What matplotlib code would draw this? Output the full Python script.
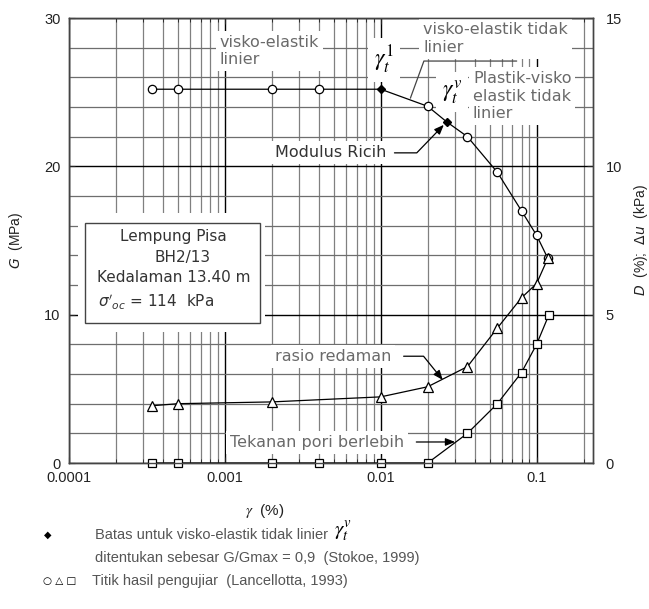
import numpy as np
import matplotlib
matplotlib.use("Agg")
import matplotlib.pyplot as plt
from matplotlib.patches import Rectangle
from matplotlib.ticker import (FixedLocator, FixedFormatter, LogLocator,
                               MultipleLocator, NullFormatter)

# shear modulus G (MPa) - open circles
strain_g = [0.00034, 0.0005, 0.002, 0.004, 0.02, 0.036, 0.056, 0.08, 0.1, 0.118]
modulus_g = [25.2, 25.2, 25.2, 25.2, 24.05, 22.0, 19.6, 17.0, 15.35, 13.8]
# threshold strains gamma_t^1 / gamma_t^v - filled diamonds
strain_lim = [0.01, 0.0265]
modulus_lim = [25.2, 23.0]
# damping ratio D (%) - triangles
strain_d = [0.00034, 0.0005, 0.002, 0.01, 0.02, 0.036, 0.056, 0.08, 0.1, 0.118]
damping = [1.93, 2.0, 2.06, 2.23, 2.57, 3.25, 4.55, 5.57, 6.05, 6.9]
# excess pore pressure du (kPa) - squares
strain_u = [0.00034, 0.0005, 0.002, 0.004, 0.01, 0.02, 0.036, 0.056, 0.08, 0.1, 0.12]
pore_u = [0, 0, 0, 0, 0, 0, 1.0, 2.0, 3.05, 4.0, 5.0]

xticks = [0.0001, 0.001, 0.01, 0.1]
xticklabels = ["0.0001", "0.001", "0.01", "0.1"]

plt.rcParams["font.family"] = ["Liberation Sans", "DejaVu Sans"]

GREY = "#6a6a6a"
LBL = dict(family="DejaVu Sans", fontsize=11.5, color=GREY)
WHITE = dict(boxstyle="square,pad=0.25", fc="white", ec="none")

fig = plt.figure(figsize=(6.49, 6.09), dpi=100)
ax = fig.add_axes([0.1063, 0.2397, 0.8074, 0.7307])
ax2 = ax.twinx()

ax.set_xscale("log")
ax.set_xlim(0.0001, 0.23)
ax.set_ylim(0, 30)
ax2.set_ylim(0, 15)

# grid
ax.set_axisbelow(True)
ax.xaxis.set_major_locator(FixedLocator(xticks))
ax.xaxis.set_major_formatter(FixedFormatter(xticklabels))
ax.xaxis.set_minor_locator(LogLocator(base=10, subs=np.arange(2, 10)))
ax.xaxis.set_minor_formatter(NullFormatter())
ax.yaxis.set_major_locator(MultipleLocator(10))
ax.yaxis.set_minor_locator(MultipleLocator(2))
ax.grid(which="major", axis="x", color="black", lw=1.0)
ax.grid(which="minor", axis="x", color="#808080", lw=0.9)
ax.grid(which="major", axis="y", color="black", lw=1.0)
ax.grid(which="minor", axis="y", color="#6e6e6e", lw=0.9)
ax2.yaxis.set_major_locator(MultipleLocator(5))

for a in (ax, ax2):
    for s in a.spines.values():
        s.set_color("#444444")
        s.set_linewidth(1.0)
ax.tick_params(which="both", direction="in", top=True, right=False,
               labelsize=10.5, colors="#222222", pad=6)
ax.tick_params(which="minor", length=3, left=False)
ax.tick_params(which="major", length=4)
ax2.tick_params(direction="in", labelsize=10.5, colors="#222222", pad=9,
                length=4)

# G curve through circles and diamonds
line_x = np.concatenate([strain_g, strain_lim])
line_y = np.concatenate([modulus_g, modulus_lim])
order = np.argsort(line_x)
ax.plot(line_x[order], line_y[order], color="black", lw=0.9, zorder=5)
ax.plot(strain_g, modulus_g, "o", ms=6, mfc="white", mec="black", mew=0.9,
        zorder=6)
ax.plot(strain_lim, modulus_lim, "D", ms=4.5, color="black", zorder=6)

# damping and pore pressure on right axis
ax2.plot(strain_d, damping, "-^", color="black", lw=0.9, ms=6.5, mfc="white",
         mew=0.9)
ax2.plot(strain_u, pore_u, "-s", color="black", lw=0.9, ms=6, mfc="white",
         mew=0.9, clip_on=False)

# zone labels
ax.text(0.288, 0.962, "visko-elastik\nlinier", transform=ax.transAxes,
        ha="left", va="top", linespacing=1.2, bbox=WHITE, zorder=3, **LBL)
ax.text(0.676, 0.99, "visko-elastik tidak\nlinier", transform=ax.transAxes,
        ha="left", va="top", linespacing=1.2, bbox=WHITE, zorder=3, **LBL)
ax.text(0.771, 0.88, "Plastik-visko\nelastik tidak\nlinier",
        transform=ax.transAxes, ha="left", va="top", linespacing=1.2,
        bbox=WHITE, zorder=3, **LBL)
ax.text(0.601, 0.906, r"$\gamma_t^1$", transform=ax.transAxes, ha="center",
        va="center", fontsize=17, math_fontfamily="stix", bbox=WHITE,
        zorder=3)
ax.text(0.731, 0.834, r"$\gamma_t^v$", transform=ax.transAxes, ha="center",
        va="center", fontsize=17, math_fontfamily="stix", bbox=WHITE,
        zorder=3)
# leader from "linier" to the modulus curve
ax.annotate("", xy=(0.0155, 24.6), xytext=(0.0745, 27.1),
            arrowprops=dict(arrowstyle="-", color="#444444", lw=0.9,
                            shrinkA=0, shrinkB=0,
                            connectionstyle="angle,angleA=0,angleB=70,rad=0"),
            zorder=4)

ax.annotate("Modulus Ricih", xy=(0.0265, 23.0), xytext=(0.393, 0.697),
            textcoords="axes fraction", ha="left", va="center",
            family="DejaVu Sans", fontsize=11.5, color="#333333",
            bbox=WHITE, zorder=3,
            arrowprops=dict(arrowstyle="-|>,head_length=0.5,head_width=0.2",
                            color="black", lw=0.9, shrinkA=3, shrinkB=3,
                            connectionstyle="angle,angleA=0,angleB=46,rad=0"))

ax.annotate("rasio redaman", xy=(0.025, 2.8), xycoords=ax2.transData,
            xytext=(0.393, 0.240), textcoords="axes fraction", ha="left",
            va="center", bbox=WHITE, zorder=3,
            arrowprops=dict(arrowstyle="-|>,head_length=0.5,head_width=0.2",
                            color="black", lw=0.9, shrinkA=6, shrinkB=0,
                            connectionstyle="angle,angleA=0,angleB=129,rad=0"),
            **LBL)

ax.annotate("Tekanan pori berlebih", xy=(0.03, 0.71), xycoords=ax2.transData,
            xytext=(0.307, 0.047), textcoords="axes fraction", ha="left",
            va="center", bbox=WHITE, zorder=3,
            arrowprops=dict(arrowstyle="-|>,head_length=0.5,head_width=0.2",
                            color="black", lw=0.9, shrinkA=6, shrinkB=0),
            **LBL)

# sample info box
ax.add_patch(Rectangle((0.017, 0.294), 0.357, 0.268, transform=ax.transAxes,
                       fc="white", ec="none", zorder=3))
ax.add_patch(Rectangle((0.0305, 0.315), 0.334, 0.224, transform=ax.transAxes,
                       fc="white", ec="#444444", lw=1.0, zorder=3))
BOX = dict(family="DejaVu Sans", fontsize=11, color="#333333", zorder=4,
           transform=ax.transAxes, va="center")
ax.text(0.200, 0.508, "Lempung Pisa", ha="center", **BOX)
ax.text(0.216, 0.461, "BH2/13", ha="center", **BOX)
ax.text(0.200, 0.416, "Kedalaman 13.40 m", ha="center", **BOX)
ax.text(0.055, 0.362, r"$\sigma'_{oc}$ = 114  kPa", ha="left", **BOX)

# axis labels
ax.set_ylabel("$G$  (MPa)", fontsize=10, color="#222222")
ax.yaxis.set_label_coords(-0.084, 0.5)
ax2.set_ylabel(r"$D$  (%);  $\Delta u$  (kPa)", fontsize=10, color="#222222")
ax2.yaxis.set_label_coords(1.075, 0.5)
ax.set_xlabel(r"$\gamma$  (%)", fontsize=11, color="#222222",
              math_fontfamily="stix")
ax.xaxis.set_label_coords(0.374, -0.088)

# notes below the chart
NOTE = dict(family="Liberation Sans", fontsize=10.5, color="#555555",
            va="center")
fig.text(0.074, 0.1215, "\u25c6", ha="center", fontsize=7, color="black",
         va="center", family="DejaVu Sans")
fig.text(0.146, 0.1215, "Batas untuk visko-elastik tidak linier", **NOTE)
fig.text(0.515, 0.127, r"$\gamma_t^v$", fontsize=15, math_fontfamily="stix",
         va="center")
fig.text(0.146, 0.0837, "ditentukan sebesar G/Gmax = 0,9  (Stokoe, 1999)",
         **NOTE)
fig.text(0.066, 0.046, "\u25cb \u25b3 \u25a1", ha="left", fontsize=7.5,
         color="black", va="center", family="DejaVu Sans")
fig.text(0.142, 0.046, "Titik hasil pengujiar  (Lancellotta, 1993)", **NOTE)

fig.savefig("out.png", dpi=100)
